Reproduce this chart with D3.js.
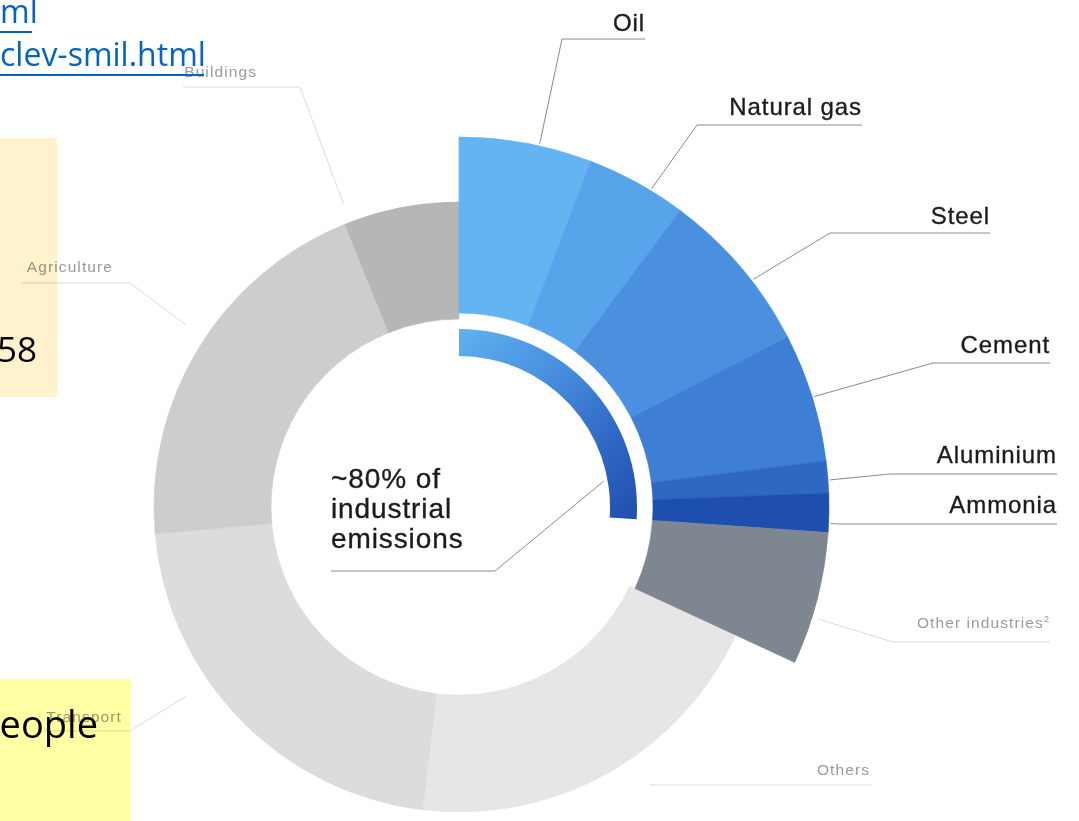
<!DOCTYPE html>
<html>
<head>
<meta charset="utf-8">
<script src="https://cdn.jsdelivr.net/npm/d3@7"></script>
<style>
  html, body { margin: 0; padding: 0; background: #fff; }
  svg { display: block; }
</style>
</head>
<body>
<svg id="chart" width="1079" height="821"></svg>
<script>
// Share of global emissions by source (percent of the full ring)
const categories = ["Oil", "Natural gas", "Steel", "Cement", "Aluminium", "Ammonia",
                    "Other industries", "Others", "Transport", "Agriculture", "Buildings"];
const shares     = [5.8, 4.4, 7.2, 5.6, 1.4, 1.7, 5.8, 20.0, 21.7, 20.3, 6.1];
// 1 = industrial source (pulled-out, taller wedge), 0 = other sector
const industrial = [1, 1, 1, 1, 1, 1, 1, 0, 0, 0, 0];
// Sources covered by the inner "~80% of industrial emissions" band
const coreSources = ["Oil", "Natural gas", "Steel", "Cement", "Aluminium", "Ammonia"];
const centerText = ["~80% of", "industrial", "emissions"];

const palette = {
  "Oil": "#63b4f1", "Natural gas": "#57a4ea", "Steel": "#4a90de", "Cement": "#3e7ed4",
  "Aluminium": "#2f68c3", "Ammonia": "#1f4fae", "Other industries": "#7e8692",
  "Others": "#e6e6e6", "Transport": "#dcdcdc", "Agriculture": "#cdcdcd", "Buildings": "#b6b6b6"
};

const svg = d3.select("#chart");
const W = 1079, H = 821;
svg.append("rect").attr("width", W).attr("height", H).attr("fill", "#fff");

const cx = 459, cy = 507;
const R = { indIn: 194, indOut: 370, othIn: 188, othOut: 305, coreIn: 151, coreOut: 178 };

const data = categories.map((c, i) => ({ name: c, share: shares[i], ind: industrial[i] === 1 }));
const pie = d3.pie().sort(null).value(d => d.share).startAngle(0).endAngle(2 * Math.PI);
const arcsData = pie(data);
const byName = {};
arcsData.forEach(a => byName[a.data.name] = a);

const arc = d3.arc()
  .innerRadius(d => d.data.ind ? R.indIn : R.othIn)
  .outerRadius(d => d.data.ind ? R.indOut : R.othOut);

const g = svg.append("g").attr("transform", `translate(${cx},${cy})`);

// gradient for the inner band
const defs = svg.append("defs");
const grad = defs.append("linearGradient").attr("id", "coreGrad")
  .attr("gradientUnits", "userSpaceOnUse")
  .attr("x1", 0).attr("y1", -R.coreOut).attr("x2", R.coreOut).attr("y2", 10);
[[0, "#5db1f1"], [0.35, "#4a91df"], [0.7, "#3068c6"], [1, "#2150ae"]]
  .forEach(([o, c]) => grad.append("stop").attr("offset", o).attr("stop-color", c));

// wedges: grey sectors first, industrial wedges on top
g.selectAll("path.wedge")
  .data(arcsData.slice().sort((a, b) => a.data.ind - b.data.ind))
  .join("path")
  .attr("class", "wedge")
  .attr("d", arc)
  .attr("fill", d => palette[d.data.name])
  .attr("stroke", d => palette[d.data.name])
  .attr("stroke-width", 0.6);

// inner band spanning the core industrial sources
const coreEnd = d3.max(coreSources, n => byName[n].endAngle);
const coreArc = d3.arc().innerRadius(R.coreIn).outerRadius(R.coreOut).startAngle(0).endAngle(coreEnd);
g.append("path").attr("d", coreArc()).attr("fill", "url(#coreGrad)");

// helpers
function polar(angle, r) {
  return [cx + r * Math.sin(angle), cy - r * Math.cos(angle)];
}
function anchorOn(name, t, r) {
  const a = byName[name];
  return polar(a.startAngle + t * (a.endAngle - a.startAngle), r);
}

// label layout: text end x, baseline, underline y and start, anchor fraction, anchor radius
const strongLabels = [
  { name: "Oil",         tx: 645,  ty: 31,  uy: 39,  ux0: 562, ux1: 645,  t: 0.6,  r: 372 },
  { name: "Natural gas", tx: 862,  ty: 115, uy: 125, ux0: 697, ux1: 862,  t: 0.65, r: 372 },
  { name: "Steel",       tx: 990,  ty: 224, uy: 233, ux0: 830, ux1: 990,  t: 0.6,  r: 372 },
  { name: "Cement",      tx: 1050, ty: 353, uy: 363, ux0: 933, ux1: 1050, t: 0.5,  r: 372 },
  { name: "Aluminium",   tx: 1057, ty: 463, uy: 474, ux0: 890, ux1: 1057, t: 0.6,  r: 372 },
  { name: "Ammonia",     tx: 1057, ty: 513, uy: 524, ux0: 840, ux1: 1057, t: 0.77, r: 372 }
];
const faintLabels = [
  { name: "Other industries", tx: 1050, ty: 628, uy: 642, ux0: 893, ux1: 1050, t: 0.64, r: 376, sup: "2" },
  { name: "Others",           tx: 870,  ty: 775, uy: 785, ux0: 650, ux1: 872,  t: null },
  { name: "Transport",        tx: 122,  ty: 722, uy: 731, ux0: 43,  ux1: 130,  t: 0.62, r: 332, left: true },
  { name: "Agriculture",      tx: 113,  ty: 272, uy: 283, ux0: 22,  ux1: 130,  t: 0.53, r: 328, left: true },
  { name: "Buildings",        tx: 257,  ty: 77,  uy: 87,  ux0: 183, ux1: 300,  t: 0.05, r: 324, left: true }
];

const labelLayer = svg.append("g");

function drawLeader(L, color) {
  const pts = [];
  if (L.t !== null && L.t !== undefined) {
    const a = anchorOn(L.name, L.t, L.r);
    if (L.left) pts.push([L.ux0, L.uy], [L.ux1, L.uy], a);
    else pts.push(a, [L.ux0, L.uy], [L.ux1, L.uy]);
  } else {
    pts.push([L.ux0, L.uy], [L.ux1, L.uy]);
  }
  labelLayer.append("path")
    .attr("d", d3.line()(pts))
    .attr("fill", "none").attr("stroke", color).attr("stroke-width", 1);
}

faintLabels.forEach(L => {
  drawLeader(L, "#dcdcdc");
  const t = labelLayer.append("text")
    .attr("x", L.tx).attr("y", L.ty).attr("text-anchor", "end")
    .attr("font-family", "'Liberation Sans', Arial, sans-serif")
    .attr("font-size", 15.5).attr("letter-spacing", 1.1)
    .attr("fill", "#9a9a9a")
    .text(L.name);
  if (L.sup) t.append("tspan").attr("dy", -6).attr("font-size", 9).text(L.sup);
});

strongLabels.forEach(L => {
  drawLeader(L, "#8a8a8a");
  labelLayer.append("text")
    .attr("x", L.tx).attr("y", L.ty).attr("text-anchor", "end")
    .attr("font-family", "'Liberation Sans', Arial, sans-serif")
    .attr("font-size", 24).attr("letter-spacing", 0.9)
    .attr("fill", "#1c1c1c").attr("stroke", "#1c1c1c").attr("stroke-width", 0.35)
    .text(L.name);
});

// centre annotation
const ct = labelLayer.append("text")
  .attr("font-family", "'Liberation Sans', Arial, sans-serif")
  .attr("font-size", 28).attr("letter-spacing", 0.9)
  .attr("fill", "#1c1c1c").attr("stroke", "#1c1c1c").attr("stroke-width", 0.35);
centerText.forEach((line, i) => {
  ct.append("tspan").attr("x", 331).attr("y", 488 + i * 30).text(line);
});
const coreAnchor = polar(0.85 * coreEnd, R.coreIn - 4);
labelLayer.append("path")
  .attr("d", d3.line()([[331, 571], [495, 571], coreAnchor]))
  .attr("fill", "none").attr("stroke", "#8a8a8a").attr("stroke-width", 1);

// slide elements lying over the left side
const slide = svg.append("g");
const linkFont = "'Open Sans', 'Noto Sans', sans-serif";
slide.append("text").attr("x", 0).attr("y", 23)
  .attr("font-family", linkFont).attr("font-size", 32).attr("fill", "#0563c1").text("ml");
slide.append("line").attr("x1", 0).attr("x2", 32).attr("y1", 32).attr("y2", 32)
  .attr("stroke", "#0563c1").attr("stroke-width", 2);
slide.append("text").attr("x", 0).attr("y", 66)
  .attr("font-family", linkFont).attr("font-size", 32).attr("fill", "#0563c1").text("clev-smil.html");
slide.append("line").attr("x1", 0).attr("x2", 204).attr("y1", 75).attr("y2", 75)
  .attr("stroke", "#0563c1").attr("stroke-width", 2);

slide.append("rect").attr("x", 0).attr("y", 138).attr("width", 57).attr("height", 259)
  .attr("fill", "#fff2cc").style("mix-blend-mode", "multiply");
slide.append("text").attr("x", 37).attr("y", 362).attr("text-anchor", "end")
  .attr("font-family", linkFont).attr("font-size", 35).attr("fill", "#000").text("58");

slide.append("rect").attr("x", 0).attr("y", 679).attr("width", 131).attr("height", 142)
  .attr("fill", "#ffffa3").style("mix-blend-mode", "multiply");
slide.append("text").attr("x", 98).attr("y", 738).attr("text-anchor", "end")
  .attr("font-family", linkFont).attr("font-size", 38).attr("fill", "#000").text("eople");
</script>
</body>
</html>
